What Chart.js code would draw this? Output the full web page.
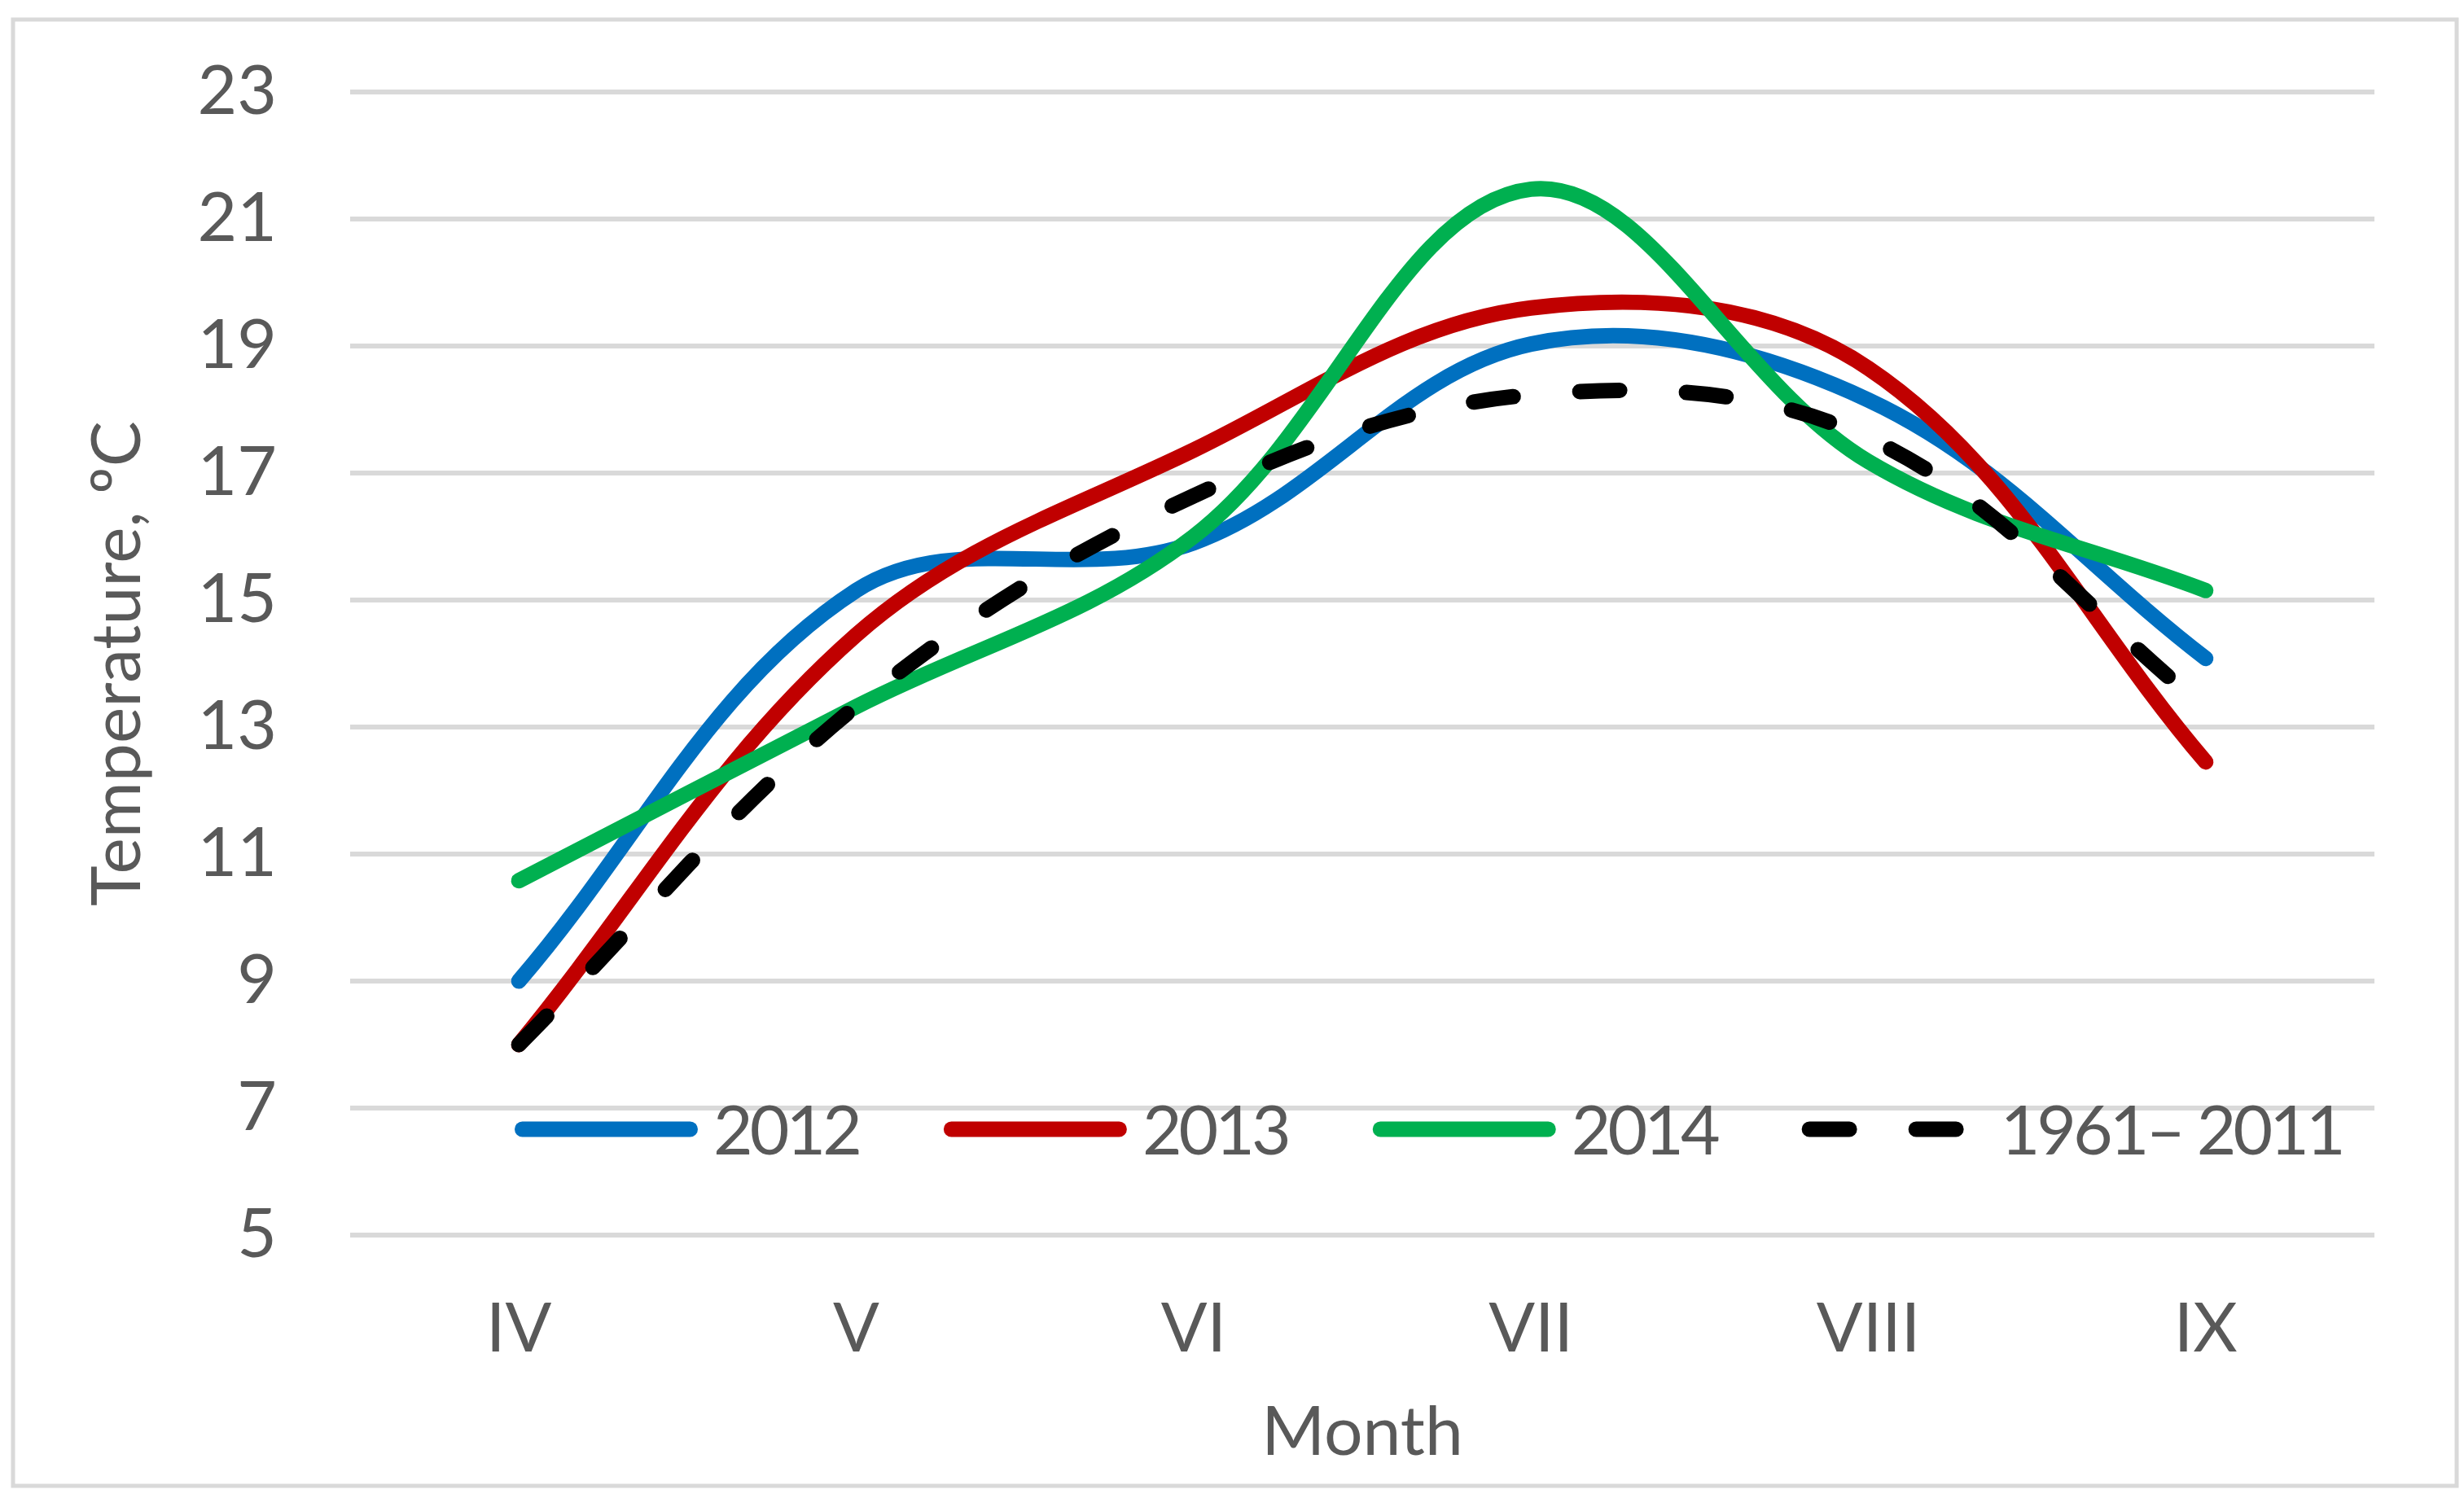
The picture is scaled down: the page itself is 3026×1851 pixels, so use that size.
<!DOCTYPE html>
<html>
<head>
<meta charset="utf-8">
<title>Temperature by month</title>
<script src="https://cdn.jsdelivr.net/npm/chart.js@4.4.1/dist/chart.umd.min.js"></script>
<style>
  html, body { margin: 0; padding: 0; background: #ffffff; }
  #wrap { width: 3026px; height: 1851px; position: relative; }
</style>
</head>
<body>
<div id="wrap"><canvas id="chart"></canvas></div>
<script>
// data
const months = ['IV', 'V', 'VI', 'VII', 'VIII', 'IX'];
const seriesNames = ['2012', '2013', '2014', '1961\u2013 2011'];
const t2012 = [9.0, 15.15, 15.9, 19.03, 18.15, 14.08];
const t2013 = [8.0, 14.45, 17.36, 19.6, 18.65, 12.45];
const t2014 = [10.58, 13.32, 16.0, 21.47, 17.18, 15.15];
const tNorm = [8.0, 13.33, 16.64, 18.23, 17.55, 13.3];
const yMin = 5, yMax = 23, yStep = 2;

const textColor = '#595959';
const gridColor = '#d9d9d9';
const font = 'Lato';

// white page + light grey frame around the whole chart
const frame = {
    id: 'frame',
    beforeDraw(chart) {
        const c = chart.ctx;
        c.save();
        c.fillStyle = '#ffffff';
        c.fillRect(0, 0, chart.width, chart.height);
        c.strokeStyle = gridColor;
        c.lineWidth = 5;
        c.strokeRect(16, 24, 3001, 1801);
        c.restore();
    }
};

// legend sits inside the plot, just above the 5 gridline
const insideLegend = {
    id: 'insideLegend',
    afterDraw(chart) {
        const c = chart.ctx;
        const area = chart.chartArea;
        const y = area.bottom - 130;
        let x = area.left + 202;
        c.save();
        c.font = '84px ' + font;
        c.letterSpacing = '-4px';
        c.textBaseline = 'middle';
        c.fillStyle = textColor;
        chart.data.datasets.forEach(ds => {
            c.strokeStyle = ds.borderColor;
            c.lineWidth = ds.borderWidth;
            c.lineCap = 'round';
            c.setLineDash(ds.borderDash || []);
            c.beginPath();
            c.moveTo(x + 9.5, y);
            c.lineTo(x + 215.5, y);
            c.stroke();
            c.setLineDash([]);
            c.fillText(ds.label, x + 244, y + 4);
            x += 244 + c.measureText(ds.label).width + 104;
        });
        c.restore();
    }
};

document.addEventListener('DOMContentLoaded', function () {
    const ctx = document.getElementById('chart').getContext('2d');

    const line = (label, data, color, order, dash) => ({
        label: label,
        data: data,
        borderColor: color,
        backgroundColor: color,
        borderWidth: 19,
        borderDash: dash,
        borderCapStyle: 'round',
        borderJoinStyle: 'round',
        pointRadius: 0,
        tension: 0.36,
        fill: false,
        order: order
    });

    new Chart(ctx, {
        type: 'line',
        data: {
            labels: months,
            datasets: [
                line(seriesNames[0], t2012, '#0070C0', 4),
                line(seriesNames[1], t2013, '#C00000', 3),
                line(seriesNames[2], t2014, '#00B050', 2),
                line(seriesNames[3], tNorm, '#000000', 1, [49, 82])
            ]
        },
        plugins: [frame, insideLegend],
        options: {
            responsive: true,
            maintainAspectRatio: false,
            devicePixelRatio: 1,
            animation: false,
            layout: { padding: { left: 0, top: 113, right: 110, bottom: 34 } },
            plugins: {
                legend: { display: false },
                tooltip: { enabled: false }
            },
            scales: {
                x: {
                    offset: true,
                    grid: { display: false },
                    border: { display: false },
                    ticks: { color: textColor, font: { family: font, size: 84 }, padding: 58 },
                    title: {
                        display: true,
                        text: 'Month',
                        color: textColor,
                        font: { family: font, size: 84, lineHeight: 1.2 },
                        padding: { top: 0, bottom: 7 }
                    },
                    afterFit: s => { s.height = 300; }
                },
                y: {
                    min: yMin,
                    max: yMax,
                    // invisible tick marks push the labels away from the plot
                    grid: { color: gridColor, lineWidth: 6, drawTicks: true, tickLength: 90, tickColor: 'rgba(0,0,0,0)' },
                    border: { display: false },
                    ticks: {
                        stepSize: yStep,
                        color: textColor,
                        font: { family: font, size: 84 },
                        padding: 0
                    },
                    title: {
                        display: true,
                        text: 'Temperature, \u00baC',
                        color: textColor,
                        font: { family: font, size: 84, lineHeight: 1.2 },
                        padding: { top: 95, bottom: 0 }
                    },
                    afterFit: s => { s.width = 430; }
                }
            }
        }
    });
});
</script>
</body>
</html>
